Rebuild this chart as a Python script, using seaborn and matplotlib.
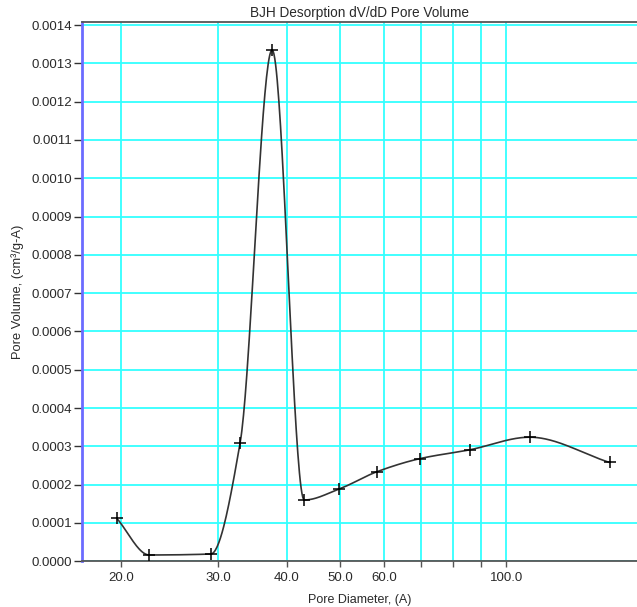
import numpy as np
import pandas as pd
import matplotlib
matplotlib.use("Agg")
import matplotlib.pyplot as plt
import seaborn as sns
from matplotlib.ticker import FixedLocator, FixedFormatter, NullLocator

# --- data ---
pore_diameter = [19.65, 22.5, 29.1, 32.9, 37.6, 43.0, 49.8, 58.3, 69.7, 85.8, 110.3, 154.0]
pore_volume = [0.000112, 0.0000165, 0.0000190, 0.000310, 0.001335, 0.000160,
               0.000189, 0.000234, 0.000268, 0.000291, 0.000324, 0.000258]
x_ticks = [20, 30, 40, 50, 60, 70, 80, 90, 100]
x_tick_labels = ["20.0", "30.0", "40.0", "50.0", "60.0", "", "", "", "100.0"]
y_ticks = [i * 0.0001 for i in range(15)]

df = pd.DataFrame({"diameter": pore_diameter, "volume": pore_volume})


# monotone cubic (PCHIP) through the points, in log-x space, for the smooth curve
def pchip(x, y, xs):
    x = np.asarray(x, float)
    y = np.asarray(y, float)
    h = np.diff(x)
    d = np.diff(y) / h
    m = np.zeros_like(y)
    for k in range(1, len(x) - 1):
        if d[k - 1] * d[k] > 0:
            w1 = 2 * h[k] + h[k - 1]
            w2 = h[k] + 2 * h[k - 1]
            m[k] = (w1 + w2) / (w1 / d[k - 1] + w2 / d[k])
    m[0] = d[0]
    m[-1] = d[-1]
    idx = np.clip(np.searchsorted(x, xs) - 1, 0, len(h) - 1)
    t = (xs - x[idx]) / h[idx]
    h00 = 2 * t**3 - 3 * t**2 + 1
    h10 = t**3 - 2 * t**2 + t
    h01 = -2 * t**3 + 3 * t**2
    h11 = t**3 - t**2
    return (h00 * y[idx] + h10 * h[idx] * m[idx]
            + h01 * y[idx + 1] + h11 * h[idx] * m[idx + 1])


lx = np.log10(df["diameter"].values)
xs = np.linspace(lx[0], lx[-1], 600)
curve = pd.DataFrame({"diameter": 10**xs, "volume": pchip(lx, df["volume"].values, xs)})

# --- plot ---
sns.set_style("white")
plt.rcParams["font.family"] = ["Liberation Sans", "DejaVu Sans"]

fig = plt.figure(figsize=(6.37, 6.07), dpi=100)
ax = fig.add_axes([0.1283, 0.0753, 0.8717, 0.8885])

sns.lineplot(data=curve, x="diameter", y="volume", ax=ax, color="#333333",
             linewidth=1.2, zorder=3)
sns.scatterplot(data=df, x="diameter", y="volume", ax=ax, marker="+", s=70,
                color="black", linewidth=1.1, zorder=4)

ax.set_xscale("log")
ax.set_xlim(16.97, 172.7)
ax.set_ylim(0, 0.001408)

ax.xaxis.set_major_locator(FixedLocator(x_ticks))
ax.xaxis.set_major_formatter(FixedFormatter(x_tick_labels))
ax.xaxis.set_minor_locator(NullLocator())
ax.set_yticks(y_ticks)
ax.set_yticklabels([f"{v:.4f}" for v in y_ticks])

ax.grid(True, color="#33ffff", linewidth=1.3)
ax.set_axisbelow(True)

ax.spines["right"].set_visible(False)
ax.spines["left"].set_color("#6b6bff")
ax.spines["left"].set_linewidth(2)
ax.spines["bottom"].set_color("#555555")
ax.spines["bottom"].set_linewidth(1.3)
ax.spines["top"].set_color("#555555")
ax.spines["top"].set_linewidth(1.3)

ax.tick_params(axis="y", direction="out", length=6, width=1, color="#333333",
               labelsize=9.5, labelcolor="#2a2a2a", pad=1, left=True)
ax.tick_params(axis="x", direction="out", length=4, width=1, color="#555555",
               labelsize=9.5, labelcolor="#2a2a2a", pad=4, bottom=True)

ax.set_xlabel("Pore Diameter, (A)", fontsize=9, color="#2a2a2a", labelpad=7)
ax.set_ylabel("Pore Volume, (cm³/g-A)", fontsize=9.3, color="#2a2a2a", labelpad=5)
ax.set_title("BJH Desorption dV/dD Pore Volume", fontsize=9.8, color="#2a2a2a", pad=3.5)

fig.savefig("out.png", dpi=100)
